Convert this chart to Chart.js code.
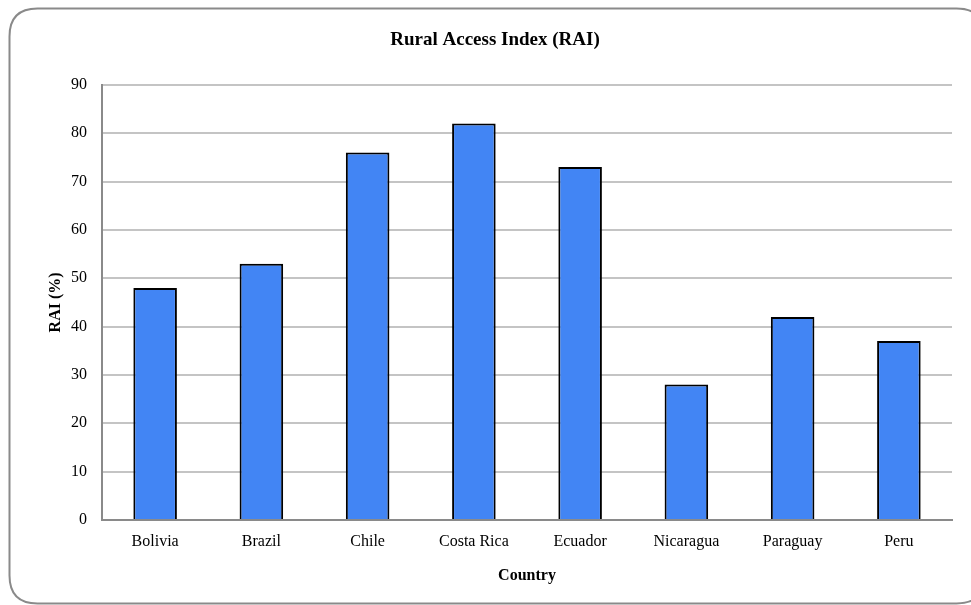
<!DOCTYPE html>
<html>
<head>
<meta charset="utf-8">
<script src="https://cdn.jsdelivr.net/npm/chart.js@4/dist/chart.umd.min.js"></script>
<style>
  html, body { margin: 0; padding: 0; background: #ffffff; }
  #wrap { width: 971px; height: 605px; position: relative; }
</style>
</head>
<body>
<div id="wrap"><canvas id="raiChart"></canvas></div>
<script>
(function () {
  'use strict';

  var countries = ['Bolivia', 'Brazil', 'Chile', 'Costa Rica', 'Ecuador', 'Nicaragua', 'Paraguay', 'Peru'];
  var raiValues = [48, 53, 76, 82, 73, 28, 42, 37];
  var yTicks = [0, 10, 20, 30, 40, 50, 60, 70, 80, 90];

  var serif = "'Liberation Serif', 'DejaVu Serif', serif";

  // rounded frame around the whole chart
  var framePlugin = {
    id: 'frame',
    beforeDraw: function (chart) {
      var c = chart.ctx;
      var x = 9.5, y = 8.5, w = 975, h = 595, r = 28;
      c.save();
      c.fillStyle = '#ffffff';
      c.fillRect(0, 0, chart.width, chart.height);
      c.beginPath();
      c.moveTo(x + r, y);
      c.lineTo(x + w - r, y);
      c.quadraticCurveTo(x + w, y, x + w, y + r);
      c.lineTo(x + w, y + h - r);
      c.quadraticCurveTo(x + w, y + h, x + w - r, y + h);
      c.lineTo(x + r, y + h);
      c.quadraticCurveTo(x, y + h, x, y + h - r);
      c.lineTo(x, y + r);
      c.quadraticCurveTo(x, y, x + r, y);
      c.closePath();
      c.lineWidth = 2;
      c.strokeStyle = '#8a8a8a';
      c.stroke();
      c.restore();
    }
  };

  var ctx = document.getElementById('raiChart').getContext('2d');

  new Chart(ctx, {
    type: 'bar',
    data: {
      labels: countries,
      datasets: [{
        label: 'RAI (%)',
        data: raiValues,
        backgroundColor: '#4285f4',
        borderColor: '#000000',
        borderWidth: 2,
        borderSkipped: 'bottom',
        barPercentage: 0.41,
        categoryPercentage: 1
      }]
    },
    options: {
      responsive: true,
      maintainAspectRatio: false,
      animation: false,
      layout: { padding: { left: 38, right: 19, top: 8, bottom: 20 } },
      plugins: {
        legend: { display: false },
        tooltip: { enabled: false },
        title: {
          display: true,
          text: 'Rural Access Index (RAI)',
          color: '#000000',
          font: { family: serif, size: 19, weight: 'bold' },
          padding: { top: 21, bottom: 33 }
        }
      },
      scales: {
        x: {
          grid: { display: false, drawTicks: false },
          border: { color: '#8a8a8a', width: 2 },
          ticks: { color: '#000000', padding: 12, font: { family: serif, size: 16 } },
          title: {
            display: true,
            text: 'Country',
            color: '#000000',
            font: { family: serif, size: 16, weight: 'bold' },
            padding: { top: 5, bottom: 0 }
          },
          afterFit: function (scale) { scale.height = 65; }
        },
        y: {
          min: 0,
          max: 90,
          afterBuildTicks: function (scale) {
            scale.ticks = yTicks.map(function (v) { return { value: v }; });
          },
          grid: { color: '#c4c4c4', lineWidth: 2, drawTicks: false },
          border: { color: '#8a8a8a', width: 2 },
          ticks: { color: '#000000', padding: 15, font: { family: serif, size: 16 } },
          title: {
            display: true,
            text: 'RAI (%)',
            color: '#000000',
            font: { family: serif, size: 16, weight: 'bold' },
            padding: { top: 8, bottom: 0 }
          },
          afterFit: function (scale) { scale.width = 64; }
        }
      }
    },
    plugins: [framePlugin]
  });
})();
</script>
</body>
</html>
